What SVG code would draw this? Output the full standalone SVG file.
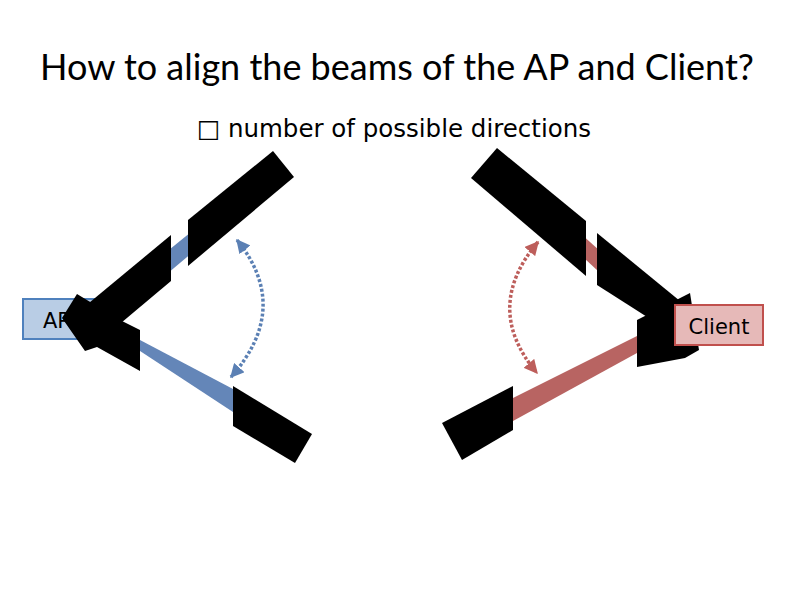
<svg xmlns="http://www.w3.org/2000/svg" width="792" height="612" viewBox="0 0 792 612">
<style>
.t{font-family:"DejaVu Sans","Liberation Sans",sans-serif;fill:#000}
.h{font-family:Lato,"DejaVu Sans",sans-serif;fill:#000}
.blk{fill:#000}
.bb{fill:#6486b8}
.rb{fill:#b86462}
.arcb{fill:none;stroke:#5b80b4;stroke-width:3.5;stroke-dasharray:3 2}
.arcr{fill:none;stroke:#bd5e5b;stroke-width:3.5;stroke-dasharray:3 2}
</style>
<defs>
<marker id="ab" viewBox="0 0 10 10" refX="9" refY="5" markerWidth="4" markerHeight="4" orient="auto-start-reverse" markerUnits="strokeWidth"><path d="M0,0 L10,5 L0,10 z" fill="#5b80b4"/></marker>
<marker id="ar" viewBox="0 0 10 10" refX="9" refY="5" markerWidth="4" markerHeight="4" orient="auto-start-reverse" markerUnits="strokeWidth"><path d="M0,0 L10,5 L0,10 z" fill="#bd5e5b"/></marker>
</defs>
<rect width="792" height="612" fill="#fff"/>
<text class="h" x="397" y="80" font-size="36" text-anchor="middle">How to align the beams of the AP and Client?</text>
<text class="t" x="394" y="137" font-size="24.5" text-anchor="middle">□ number of possible directions</text>
<g id="ap">
<rect x="23" y="299" width="88" height="40" fill="#b9cde5" stroke="#4f81bd" stroke-width="2"/>
<text class="t" x="43" y="328" font-size="21">AP</text>
</g>
<g id="ap-beams">
<polygon class="bb" points="95,310 260,176 262,194 105,326"/>
<polygon class="bb" points="140,340 233,389 233,412 140,351"/>
<polygon class="blk" points="273,151 294,177 188,266 188,220"/>
<polygon class="blk" points="171,235 171,281 90,349 66,322"/>
<polygon class="blk" points="77,294 120,320 140,330 140,371 97,347 85,351 62,318"/>
<polygon class="blk" points="233,386 312,434 295,463 233,426"/>
</g>
<g id="client-beams">
<polygon class="rb" points="560,215 650,296 640,310 556,232"/>
<polygon class="rb" points="513,398 637,336 637,353 513,421"/>
<polygon class="blk" points="497,148 471,178 586,276 586,221"/>
<polygon class="blk" points="597,233 680,301 655,322 597,285"/>
<polygon class="blk" points="637,320 690,293 699,350 685,358 637,367"/>
<polygon class="blk" points="513,386 513,430 462,460 442,423"/>
</g>
<g id="client">
<rect x="675" y="305" width="88" height="40" fill="#e6b9b8" stroke="#c0504d" stroke-width="2"/>
<text class="t" x="719" y="334" font-size="21" text-anchor="middle">Client</text>
</g>
<g id="connectors">
<path class="arcb" d="M237,240 Q292,308 231,377" marker-start="url(#ab)" marker-end="url(#ab)"/>
<path class="arcr" d="M538,242 Q482,308 537,373" marker-start="url(#ar)" marker-end="url(#ar)"/>
</g>
</svg>
